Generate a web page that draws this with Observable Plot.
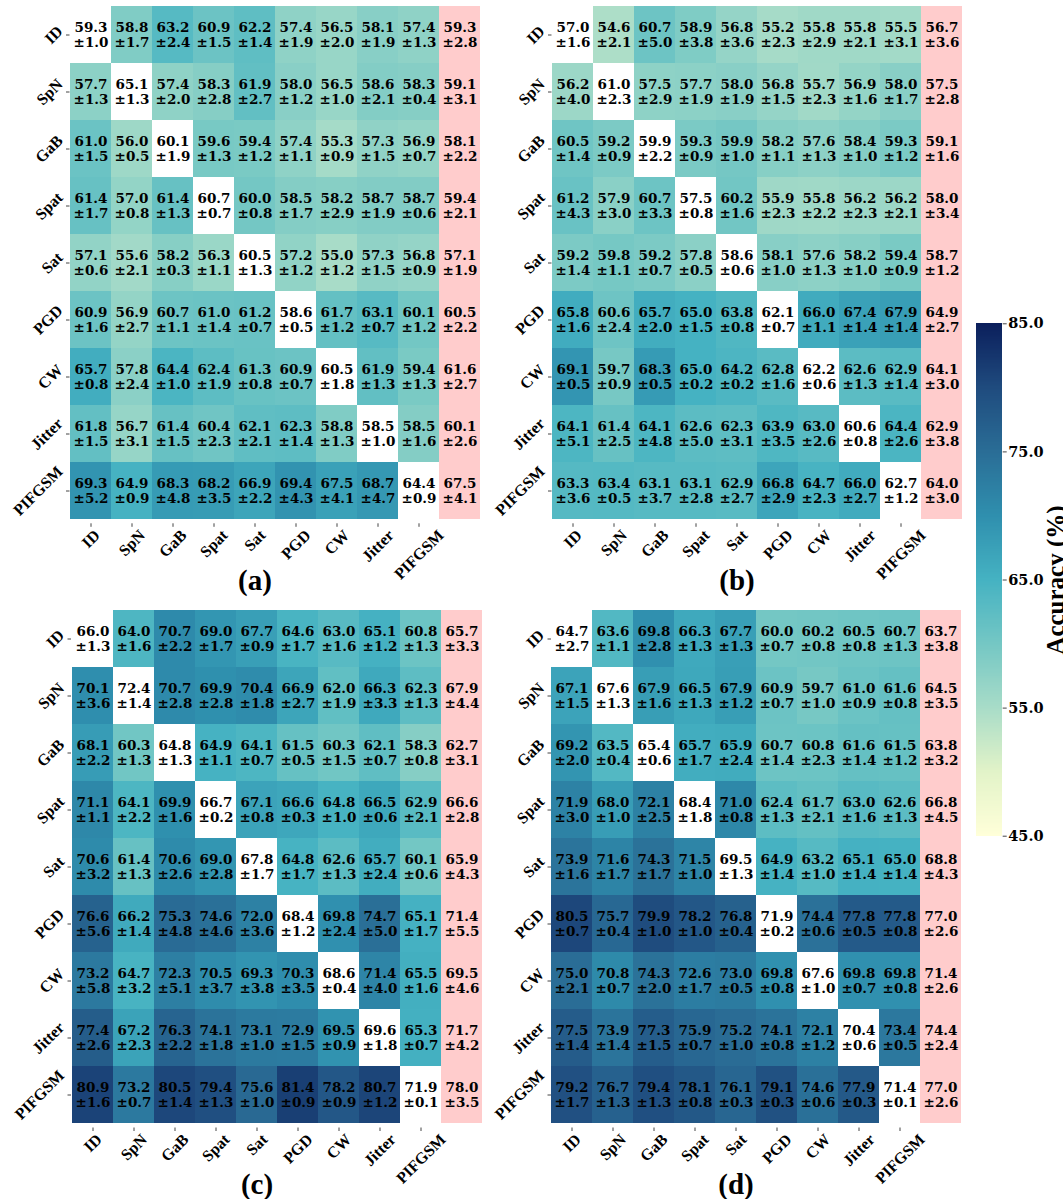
<!DOCTYPE html>
<html><head><meta charset="utf-8">
<script src="https://cdn.jsdelivr.net/npm/d3@7"></script>
<script src="https://cdn.jsdelivr.net/npm/@observablehq/plot@0.6"></script>
<style>
html,body{margin:0;padding:0;background:#fff;overflow:hidden;}
#fig{position:relative;width:1063px;height:1199px;overflow:hidden;}
#fig > svg{position:absolute;}
</style></head><body><div id="fig"></div>
<script>
// ---- categories ----
const labels = ["ID","SpN","GaB","Spat","Sat","PGD","CW","Jitter","PIFGSM"];
const columns = [...labels, "Mean"];
const panelTags = ["(a)","(b)","(c)","(d)"];
const cbTicks = [45, 55, 65, 75, 85];
const cbTitle = "Accuracy (%)";

// ---- panel (a) ----
const aMean = [
 [59.3,58.8,63.2,60.9,62.2,57.4,56.5,58.1,57.4],
 [57.7,65.1,57.4,58.3,61.9,58.0,56.5,58.6,58.3],
 [61.0,56.0,60.1,59.6,59.4,57.4,55.3,57.3,56.9],
 [61.4,57.0,61.4,60.7,60.0,58.5,58.2,58.7,58.7],
 [57.1,55.6,58.2,56.3,60.5,57.2,55.0,57.3,56.8],
 [60.9,56.9,60.7,61.0,61.2,58.6,61.7,63.1,60.1],
 [65.7,57.8,64.4,62.4,61.3,60.9,60.5,61.9,59.4],
 [61.8,56.7,61.4,60.4,62.1,62.3,58.8,58.5,58.5],
 [69.3,64.9,68.3,68.2,66.9,69.4,67.5,68.7,64.4]];
const aStd = [
 [1.0,1.7,2.4,1.5,1.4,1.9,2.0,1.9,1.3],
 [1.3,1.3,2.0,2.8,2.7,1.2,1.0,2.1,0.4],
 [1.5,0.5,1.9,1.3,1.2,1.1,0.9,1.5,0.7],
 [1.7,0.8,1.3,0.7,0.8,1.7,2.9,1.9,0.6],
 [0.6,2.1,0.3,1.1,1.3,1.2,1.2,1.5,0.9],
 [1.6,2.7,1.1,1.4,0.7,0.5,1.2,0.7,1.2],
 [0.8,2.4,1.0,1.9,0.8,0.7,1.8,1.3,1.3],
 [1.5,3.1,1.5,2.3,2.1,1.4,1.3,1.0,1.6],
 [5.2,0.9,4.8,3.5,2.2,4.3,4.1,4.7,0.9]];
const aAvg = [59.3,59.1,58.1,59.4,57.1,60.5,61.6,60.1,67.5];
const aAvgStd = [2.8,3.1,2.2,2.1,1.9,2.2,2.7,2.6,4.1];

// ---- panel (b) ----
const bMean = [
 [57.0,54.6,60.7,58.9,56.8,55.2,55.8,55.8,55.5],
 [56.2,61.0,57.5,57.7,58.0,56.8,55.7,56.9,58.0],
 [60.5,59.2,59.9,59.3,59.9,58.2,57.6,58.4,59.3],
 [61.2,57.9,60.7,57.5,60.2,55.9,55.8,56.2,56.2],
 [59.2,59.8,59.2,57.8,58.6,58.1,57.6,58.2,59.4],
 [65.8,60.6,65.7,65.0,63.8,62.1,66.0,67.4,67.9],
 [69.1,59.7,68.3,65.0,64.2,62.8,62.2,62.6,62.9],
 [64.1,61.4,64.1,62.6,62.3,63.9,63.0,60.6,64.4],
 [63.3,63.4,63.1,63.1,62.9,66.8,64.7,66.0,62.7]];
const bStd = [
 [1.6,2.1,5.0,3.8,3.6,2.3,2.9,2.1,3.1],
 [4.0,2.3,2.9,1.9,1.9,1.5,2.3,1.6,1.7],
 [1.4,0.9,2.2,0.9,1.0,1.1,1.3,1.0,1.2],
 [4.3,3.0,3.3,0.8,1.6,2.3,2.2,2.3,2.1],
 [1.4,1.1,0.7,0.5,0.6,1.0,1.3,1.0,0.9],
 [1.6,2.4,2.0,1.5,0.8,0.7,1.1,1.4,1.4],
 [0.5,0.9,0.5,0.2,0.2,1.6,0.6,1.3,1.4],
 [5.1,2.5,4.8,5.0,3.1,3.5,2.6,0.8,2.6],
 [3.6,0.5,3.7,2.8,2.7,2.9,2.3,2.7,1.2]];
const bAvg = [56.7,57.5,59.1,58.0,58.7,64.9,64.1,62.9,64.0];
const bAvgStd = [3.6,2.8,1.6,3.4,1.2,2.7,3.0,3.8,3.0];

// ---- panel (c) ----
const cMean = [
 [66.0,64.0,70.7,69.0,67.7,64.6,63.0,65.1,60.8],
 [70.1,72.4,70.7,69.9,70.4,66.9,62.0,66.3,62.3],
 [68.1,60.3,64.8,64.9,64.1,61.5,60.3,62.1,58.3],
 [71.1,64.1,69.9,66.7,67.1,66.6,64.8,66.5,62.9],
 [70.6,61.4,70.6,69.0,67.8,64.8,62.6,65.7,60.1],
 [76.6,66.2,75.3,74.6,72.0,68.4,69.8,74.7,65.1],
 [73.2,64.7,72.3,70.5,69.3,70.3,68.6,71.4,65.5],
 [77.4,67.2,76.3,74.1,73.1,72.9,69.5,69.6,65.3],
 [80.9,73.2,80.5,79.4,75.6,81.4,78.2,80.7,71.9]];
const cStd = [
 [1.3,1.6,2.2,1.7,0.9,1.7,1.6,1.2,1.3],
 [3.6,1.4,2.8,2.8,1.8,2.7,1.9,3.3,1.3],
 [2.2,1.3,1.3,1.1,0.7,0.5,1.5,0.7,0.8],
 [1.1,2.2,1.6,0.2,0.8,0.3,1.0,0.6,2.1],
 [3.2,1.3,2.6,2.8,1.7,1.7,1.3,2.4,0.6],
 [5.6,1.4,4.8,4.6,3.6,1.2,2.4,5.0,1.7],
 [5.8,3.2,5.1,3.7,3.8,3.5,0.4,4.0,1.6],
 [2.6,2.3,2.2,1.8,1.0,1.5,0.9,1.8,0.7],
 [1.6,0.7,1.4,1.3,1.0,0.9,0.9,1.2,0.1]];
const cAvg = [65.7,67.9,62.7,66.6,65.9,71.4,69.5,71.7,78.0];
const cAvgStd = [3.3,4.4,3.1,2.8,4.3,5.5,4.6,4.2,3.5];

// ---- panel (d) ----
const dMean = [
 [64.7,63.6,69.8,66.3,67.7,60.0,60.2,60.5,60.7],
 [67.1,67.6,67.9,66.5,67.9,60.9,59.7,61.0,61.6],
 [69.2,63.5,65.4,65.7,65.9,60.7,60.8,61.6,61.5],
 [71.9,68.0,72.1,68.4,71.0,62.4,61.7,63.0,62.6],
 [73.9,71.6,74.3,71.5,69.5,64.9,63.2,65.1,65.0],
 [80.5,75.7,79.9,78.2,76.8,71.9,74.4,77.8,77.8],
 [75.0,70.8,74.3,72.6,73.0,69.8,67.6,69.8,69.8],
 [77.5,73.9,77.3,75.9,75.2,74.1,72.1,70.4,73.4],
 [79.2,76.7,79.4,78.1,76.1,79.1,74.6,77.9,71.4]];
const dStd = [
 [2.7,1.1,2.8,1.3,1.3,0.7,0.8,0.8,1.3],
 [1.5,1.3,1.6,1.3,1.2,0.7,1.0,0.9,0.8],
 [2.0,0.4,0.6,1.7,2.4,1.4,2.3,1.4,1.2],
 [3.0,1.0,2.5,1.8,0.8,1.3,2.1,1.6,1.3],
 [1.6,1.7,1.7,1.0,1.3,1.4,1.0,1.4,1.4],
 [0.7,0.4,1.0,1.0,0.4,0.2,0.6,0.5,0.8],
 [2.1,0.7,2.0,1.7,0.5,0.8,1.0,0.7,0.8],
 [1.4,1.4,1.5,0.7,1.0,0.8,1.2,0.6,0.5],
 [1.7,1.3,1.3,0.8,0.3,0.3,0.6,0.3,0.1]];
const dAvg = [63.7,64.5,63.8,66.8,68.8,77.0,71.4,74.4,77.0];
const dAvgStd = [3.8,3.5,3.2,4.5,4.3,2.6,2.6,2.4,2.6];

// ---- styling ----
const numFont = "DejaVu Serif";
const labFont = "Liberation Serif";
const pink = "#ffcccc";
// colour ramp (45 -> 85) as seen on the reference colourbar
const rampColors = ["#ffffd9","#e2f3c8","#a8dcc8","#74c7c4","#45b2c2","#2f8fae","#2a6d96","#1f4b7e","#0b1f5c"];
const colorScale = {type: "linear", domain: d3.range(rampColors.length).map(i => 45 + i * 40 / (rampColors.length - 1)),
  range: rampColors, interpolate: d3.interpolateRgb};

const ctx = document.createElement("canvas").getContext("2d");
const labSize = 16;
ctx.font = `bold ${labSize}px "${labFont}"`;
const tw = s => ctx.measureText(s).width;

const fig = document.getElementById("fig");

function panel(cfg) {
  const {mean, std, avg, avgStd, tag, left, top, width, height, mL, mR, mT, mB} = cfg;
  const cells = [];
  labels.forEach((r, i) => columns.forEach((c, j) => {
    const isMean = j === 9;
    cells.push({row: r, col: c,
      v: isMean ? avg[i] : mean[i][j],
      s: isMean ? avgStd[i] : std[i][j],
      kind: isMean ? "mean" : (i === j ? "diag" : "off")});
  }));
  const lab = {fontFamily: labFont, fontWeight: "bold", fontSize: labSize, rotate: -45,
               textAnchor: "middle", lineAnchor: "middle", fill: "black"};
  const svg = Plot.plot({
    width, height, marginLeft: mL, marginRight: mR, marginTop: mT, marginBottom: mB,
    x: {domain: columns, padding: 0},
    y: {domain: labels, padding: 0},
    color: colorScale,
    style: {background: "transparent", overflow: "visible"},
    marks: [
      Plot.cell(cells.filter(d => d.kind === "off"), {x: "col", y: "row", fill: "v", inset: 0}),
      Plot.cell(cells.filter(d => d.kind === "diag"), {x: "col", y: "row", fill: "white", inset: 0}),
      Plot.cell(cells.filter(d => d.kind === "mean"), {x: "col", y: "row", fill: pink, inset: 0}),
      Plot.text(cells, {x: "col", y: "row", text: d => `${d.v.toFixed(1)}\n±${d.s.toFixed(1)}`,
        fontFamily: numFont, fontWeight: "bold", fontSize: 13.5, lineHeight: 1.05,
        lineAnchor: "middle", fill: "black"}),
      Plot.axisX({ticks: labels, tickSize: 3.5, fill: "none", label: null, stroke: "#444"}),
      Plot.axisY({ticks: labels, tickSize: 3.5, fill: "none", label: null, stroke: "#444"}),
      ...labels.map(r => Plot.text([r], {...lab, x: d => d, frameAnchor: "bottom",
        dy: 5 + (tw(r) + 11) * 0.3536})),
      ...labels.map(r => Plot.text([r], {...lab, y: d => d, frameAnchor: "left",
        dx: -(6 + (tw(r) + 11) * 0.3536)})),
      Plot.text([tag], {x: () => "Sat", frameAnchor: "bottom", dy: 57, fontFamily: labFont,
        fontWeight: "bold", fontSize: 29, lineAnchor: "middle", textAnchor: "middle", fill: "black"})
    ]
  });
  svg.style.left = left + "px";
  svg.style.top = top + "px";
  fig.appendChild(svg);
}

panel({mean: aMean, std: aStd, avg: aAvg, avgStd: aAvgStd, tag: panelTags[0],
  left: 0, top: 0, width: 495, height: 600, mL: 69.5, mR: 14, mT: 2, mB: 76.7});
panel({mean: bMean, std: bStd, avg: bAvg, avgStd: bAvgStd, tag: panelTags[1],
  left: 495, top: 0, width: 470, height: 600, mL: 56.5, mR: 3.3, mT: 2, mB: 76.7});
panel({mean: cMean, std: cStd, avg: cAvg, avgStd: cAvgStd, tag: panelTags[2],
  left: 0, top: 600, width: 495, height: 599, mL: 71, mR: 13, mT: 6, mB: 71.5});
panel({mean: dMean, std: dStd, avg: dAvg, avgStd: dAvgStd, tag: panelTags[3],
  left: 495, top: 600, width: 470, height: 599, mL: 56, mR: 3.3, mT: 6, mB: 71.5});

// ---- colorbar ----
const cbMin = cbTicks[0], cbMax = cbTicks[cbTicks.length - 1];
const nSteps = 400, step = (cbMax - cbMin) / nSteps;
const ramp = d3.range(nSteps).map(i => cbMin + i * step);
const cb = Plot.plot({
  width: 98, height: 1199, marginLeft: 11, marginRight: 61.3, marginTop: 323.3, marginBottom: 363.3,
  y: {domain: [cbMin, cbMax]},
  color: colorScale,
  style: {background: "transparent", overflow: "visible"},
  marks: [
    Plot.rect(ramp, {y1: d => d, y2: d => d + step * 1.5, fill: d => d + step / 2, shapeRendering: "crispEdges"}),
    Plot.axisY({anchor: "right", ticks: cbTicks, tickFormat: d => d.toFixed(1), tickSize: 4, tickPadding: 2,
      fontFamily: numFont, fontWeight: "bold", fontSize: 14.5, label: null, stroke: "#444"}),
    Plot.text([cbTitle], {frameAnchor: "left", dx: 70, rotate: -90, lineAnchor: "top", textAnchor: "middle",
      fontFamily: labFont, fontWeight: "bold", fontSize: 25, fill: "black"})
  ]
});
cb.style.left = "965px";
cb.style.top = "0px";
fig.appendChild(cb);
</script></body></html>
